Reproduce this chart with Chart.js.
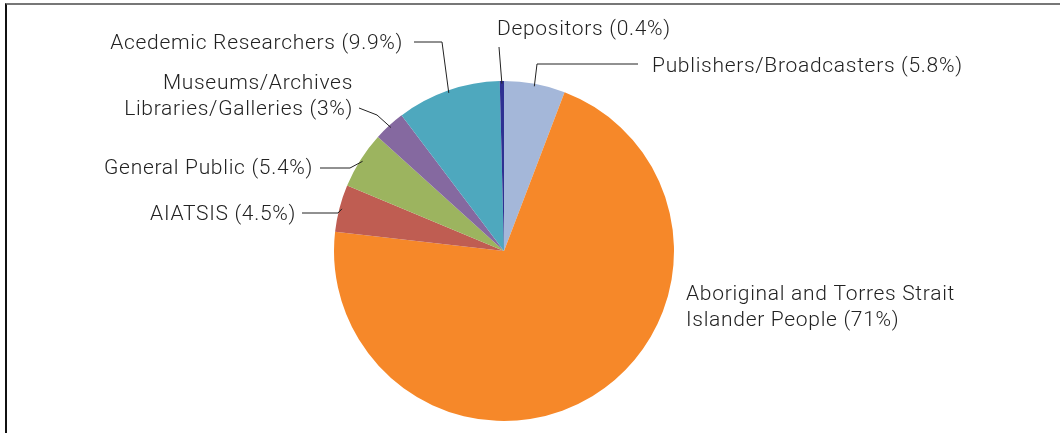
<!DOCTYPE html>
<html>
<head>
<meta charset="utf-8">
<script src="https://cdn.jsdelivr.net/npm/chart.js@4.4.0/dist/chart.umd.min.js"></script>
<style>
  html, body { margin: 0; padding: 0; background: #fff; }
  #wrap { position: relative; width: 1060px; height: 433px; }
  #frame { position: absolute; left: 5px; top: 3px; right: 0; bottom: 0;
           border-top: 2px solid #777; border-left: 2px solid #111; }
  canvas { position: absolute; left: 0; top: 0; }
</style>
</head>
<body>
<div id="wrap">
  <div id="frame"></div>
  <canvas id="pie" width="1060" height="433"></canvas>
</div>
<script>
// groups, clockwise from 12 o'clock
const groups = [
  "Publishers/Broadcasters",
  "Aboriginal and Torres Strait Islander People",
  "AIATSIS",
  "General Public",
  "Museums/Archives Libraries/Galleries",
  "Acedemic Researchers",
  "Depositors"
];
const shares = [5.8, 71, 4.5, 5.4, 3, 9.9, 0.4];
const shareText = ["5.8%", "71%", "4.5%", "5.4%", "3%", "9.9%", "0.4%"];
const colours = ["#A4B7D9", "#F68829", "#BF5D52", "#9CB45F", "#8569A0", "#4EA8BE", "#2E3192"];

// label placement (layout only): text lines, anchor, alignment, leader start + elbow
const labelLayout = [
  { lines: ["Publishers/Broadcasters (" + shareText[0] + ")"], x: 652, y: 65, align: "left", start: [638, 64], elbow: [537, 64] },
  { lines: ["Aboriginal and Torres Strait", "Islander People (" + shareText[1] + ")"], x: 686, y: 293, align: "left", start: null },
  { lines: ["AIATSIS (" + shareText[2] + ")"], x: 296, y: 213, align: "right", start: [302, 213], elbow: [338, 213] },
  { lines: ["General Public (" + shareText[3] + ")"], x: 313, y: 167, align: "right", start: [320, 168], elbow: [350, 168] },
  { lines: ["Museums/Archives", "Libraries/Galleries (" + shareText[4] + ")"], x: 353, y: 82, align: "right", start: [359, 108], elbow: [377, 115] },
  { lines: ["Acedemic Researchers (" + shareText[5] + ")"], x: 403, y: 42, align: "right", start: [414, 42], elbow: [442, 42] },
  { lines: ["Depositors (" + shareText[6] + ")"], x: 497, y: 28, align: "left", start: [499, 47], elbow: null }
];

const labelPlugin = {
  id: "pieLabels",
  afterDraw(chart) {
    const ctx = chart.ctx;
    const meta = chart.getDatasetMeta(0);
    ctx.save();
    ctx.font = "300 21px Roboto, 'DejaVu Sans', sans-serif";
    ctx.letterSpacing = "0.7px";
    ctx.fillStyle = "#222";
    ctx.textBaseline = "middle";
    labelLayout.forEach(function(l, i) {
      ctx.textAlign = l.align;
      l.lines.forEach(function(t, k) { ctx.fillText(t, l.x, l.y + 2 + k * 26); });
      if (!l.start) return;
      const arc = meta.data[i];
      const mid = (arc.startAngle + arc.endAngle) / 2;
      const r = arc.outerRadius * 0.985;
      const ex = arc.x + Math.cos(mid) * r;
      const ey = arc.y + Math.sin(mid) * r;
      ctx.beginPath();
      ctx.strokeStyle = "#222";
      ctx.lineWidth = 1;
      ctx.moveTo(l.start[0], l.start[1]);
      if (l.elbow) ctx.lineTo(l.elbow[0], l.elbow[1]);
      ctx.lineTo(ex, ey);
      ctx.stroke();
    });
    ctx.restore();
  }
};

new Chart(document.getElementById("pie"), {
  type: "pie",
  data: {
    labels: groups,
    datasets: [{
      data: shares,
      backgroundColor: colours,
      borderWidth: 0
    }]
  },
  options: {
    responsive: false,
    animation: false,
    layout: { padding: { left: 334, right: 386, top: 81, bottom: 12 } },
    plugins: { legend: { display: false }, tooltip: { enabled: false } }
  },
  plugins: [labelPlugin]
});
</script>
</body>
</html>
